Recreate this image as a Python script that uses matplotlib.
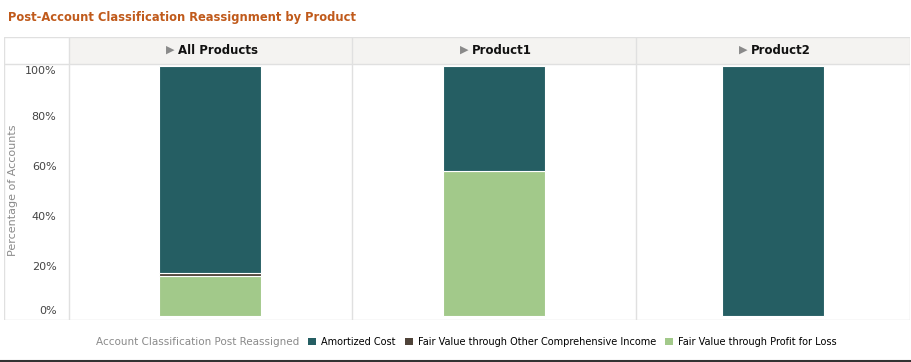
import numpy as np
import matplotlib.pyplot as plt
from matplotlib.patches import Patch

# Данные (проценты счетов по классам)
products = ["All Products", "Product1", "Product2"]
classes = ["Amortized Cost",
           "Fair Value through Other Comprehensive Income",
           "Fair Value through Profit for Loss"]
amortized = [82.6, 41.8, 100.0]
fvoci = [1.2, 0.0, 0.0]
fvpl = [16.2, 58.2, 0.0]
yticks = [0, 20, 40, 60, 80, 100]

colors = ["#255e63", "#4f4339", "#a2c98a"]
grid_c = "#e0e0e0"

W, H = 912, 362
fig = plt.figure(figsize=(W / 100, H / 100), dpi=100)


def fx(px):
    return px / W


def fy(py):
    return 1 - py / H


edges = [69, 352, 636, 910]
top_hdr, top_plot, bottom = 37, 64, 320
bar_px = 102

# рамка и заголовки
frame = fig.add_axes([fx(4), fy(bottom), fx(906), (bottom - top_hdr) / H])
frame.set_xlim(4, 910)
frame.set_ylim(bottom, top_hdr)
frame.axis("off")
for i in range(3):
    frame.fill_between([edges[i], edges[i + 1]], top_hdr, top_plot,
                       color="#f4f3f1", lw=0)
for x in [4] + edges:
    frame.plot([x, x], [top_hdr, bottom], color=grid_c, lw=1)
for y in [top_hdr, top_plot, bottom]:
    frame.plot([4, 910], [y, y], color=grid_c, lw=1)

fig.canvas.draw()
for i, name in enumerate(products):
    cx = (edges[i] + edges[i + 1]) / 2
    t = frame.text(cx + 8, 50.5, name, ha="center", va="center",
                   fontsize=8.5, fontweight="bold", color="#111111")
    bb = t.get_window_extent(renderer=fig.canvas.get_renderer())
    fig.text((bb.x0 - 4) / W, fy(50), "\u25b6", ha="right", va="center",
             fontsize=8, color="#8a8a8a")

# панели с накопленными столбцами
for i in range(3):
    pw = edges[i + 1] - edges[i]
    ax = fig.add_axes([fx(edges[i]), fy(bottom), fx(pw), (bottom - top_plot) / H])
    ax.set_xlim(-0.5, 0.5)
    ax.set_ylim(-1.6, 100.8)
    base = 0
    for vals, c in [(fvpl, colors[2]), (fvoci, colors[1]), (amortized, colors[0])]:
        if vals[i] > 0:
            ax.bar(0, vals[i], width=bar_px / pw, bottom=base, color=c,
                   edgecolor="white", linewidth=0.8)
        base += vals[i]
    for s in ax.spines.values():
        s.set_visible(False)
    ax.set_xticks([])
    ax.patch.set_alpha(0)
    if i == 0:
        ax.set_yticks(yticks)
        ax.set_yticklabels([f"{v}%" for v in yticks], fontsize=8, color="#444444")
        ax.tick_params(axis="y", length=0, pad=9)
        lbls = ax.get_yticklabels()
        lbls[0].set_va("bottom")
        lbls[-1].set_va("top")
    else:
        ax.set_yticks([])

fig.text(fx(13), fy(190), "Percentage of Accounts", rotation=90,
         ha="center", va="center", fontsize=8, color="#8a8a8a")

fig.text(fx(8), fy(18), "Post-Account Classification Reassignment by Product",
         ha="left", va="center", fontsize=8.3, fontweight="bold", color="#c05a1b")

# легенда
fig.text(fx(96), fy(342), "Account Classification Post Reassigned",
         ha="left", va="center", fontsize=7.5, color="#8a8a8a")
handles = [Patch(facecolor=c, edgecolor="none") for c in colors]
fig.legend(handles, classes, loc="center left", bbox_to_anchor=(fx(308), fy(342)),
           ncol=3, frameon=False, fontsize=7, handlelength=0.8, handleheight=0.8,
           handletextpad=0.5, columnspacing=1.0, borderaxespad=0, borderpad=0)

fig.add_artist(plt.Line2D([0, 1], [fy(361), fy(361)], color="#333333", lw=1.5))

fig.savefig("out.png", dpi=100)
